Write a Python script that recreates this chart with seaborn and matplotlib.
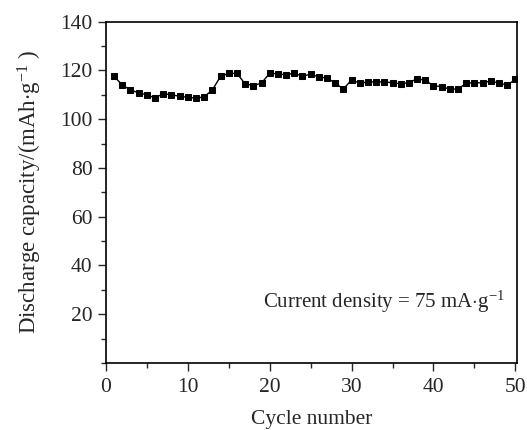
import numpy as np
import pandas as pd
import matplotlib
matplotlib.use('Agg')
import matplotlib.pyplot as plt
import seaborn as sns
from matplotlib.ticker import MultipleLocator

sns.set_style('ticks')
plt.rcParams['font.family'] = ['Liberation Serif', 'DejaVu Serif']
plt.rcParams['mathtext.fontset'] = 'custom'
plt.rcParams['mathtext.rm'] = 'Liberation Serif'
plt.rcParams['mathtext.it'] = 'Liberation Serif:italic'

cycles = list(range(1, 51))
capacity = [117.6, 114.0, 112.0, 110.8, 110.0, 108.7, 110.5, 110.0, 109.4, 109.0,
            108.6, 109.2, 112.0, 117.6, 118.8, 118.8, 114.5, 113.8, 114.8, 118.9,
            118.6, 118.2, 118.9, 117.6, 118.5, 117.3, 116.9, 114.8, 112.4, 116.1,
            114.8, 115.3, 115.3, 115.3, 115.0, 114.5, 115.0, 116.6, 116.0, 113.7,
            113.4, 112.3, 112.4, 114.7, 115.0, 114.9, 115.7, 114.8, 114.0, 116.3]

df = pd.DataFrame({'cycle': cycles, 'capacity': capacity})

fig = plt.figure(figsize=(5.27, 4.3), dpi=100)
ax = fig.add_axes([0.201, 0.156, 0.78, 0.7935])

sns.lineplot(data=df, x='cycle', y='capacity', ax=ax, color='black', linewidth=1,
             marker='s', markersize=4.5, markeredgecolor='black', markerfacecolor='black')

ax.set_xlim(0, 50.2)
ax.set_ylim(0, 140)
ax.xaxis.set_major_locator(MultipleLocator(10))
ax.xaxis.set_minor_locator(MultipleLocator(5))
ax.yaxis.set_minor_locator(MultipleLocator(10))
ax.set_yticks([20, 40, 60, 80, 100, 120, 140])
ax.tick_params(axis='both', which='major', direction='out', length=6, width=1,
               labelsize=15.5, top=False, right=False)
ax.tick_params(axis='x', which='major', pad=5)
ax.tick_params(axis='both', which='minor', direction='out', length=3.5, width=1,
               top=False, right=False)
for s in ax.spines.values():
    s.set_linewidth(1.2)
    s.set_color('black')

ax.set_xlabel('Cycle number', fontsize=15.5, labelpad=9)
ax.set_ylabel('Discharge capacity/(mAh$\\cdot$g$^{-1}$ )', fontsize=16.5, labelpad=12)
ax.text(0.381, 0.18, 'Current density = 75 mA$\\cdot$g$^{-1}$', transform=ax.transAxes,
        fontsize=15, ha='left', va='center')

fig.savefig('out.png', dpi=100)
